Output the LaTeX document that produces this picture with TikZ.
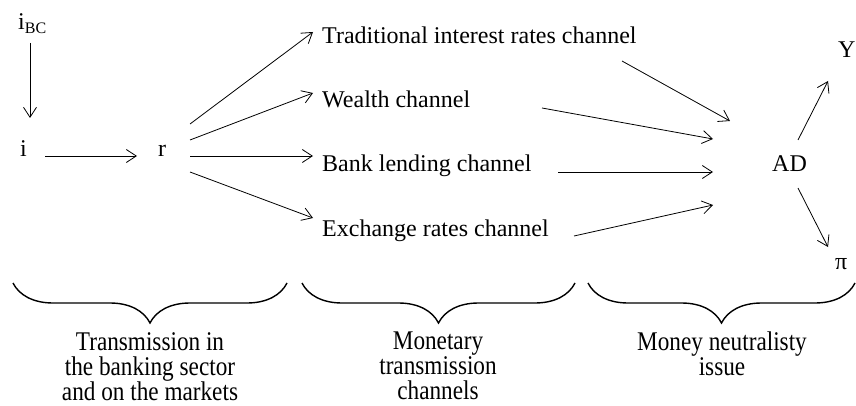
\documentclass[tikz,border=0pt]{standalone}
\usepackage{fontspec}
\setmainfont{Liberation Serif}
\newfontfamily\capfont[FakeStretch=0.86]{Liberation Serif}
\usetikzlibrary{arrows.meta,decorations.pathreplacing}
\begin{document}
\begin{tikzpicture}[x=1pt,y=-1pt,
  lbl/.style={inner sep=0pt, anchor=base west, font=\fontsize{24}{28}\selectfont},
  arr/.style={draw, line width=0.8pt, -{Straight Barb[length=10pt,width=13pt,line width=0.8pt]}},
  brc/.style={draw, line width=1.4pt, decorate, decoration={brace, amplitude=40pt, mirror}},
  captxt/.style={inner sep=0pt, anchor=north, align=center, font=\capfont\fontsize{27}{25}\selectfont}]
\useasboundingbox (0,0) rectangle (856,406);
% nodes
\node[lbl] (ibc) at (18,30) {i\raisebox{-4pt}{\fontsize{16}{16}\selectfont BC}};
\node[lbl] (i) at (20,157) {i};
\node[lbl] (r) at (158,157) {r};
\node[lbl] (trad) at (322,44) {Traditional interest rates channel};
\node[lbl] (wealth) at (322,108) {Wealth channel};
\node[lbl] (bank) at (322,172) {Bank lending channel};
\node[lbl] (exch) at (322,236) {Exchange rates channel};
\node[lbl] (ad) at (772,172) {AD};
\node[lbl] (Y) at (838,58) {Y};
\node[lbl] (pi) at (835,269) {π};
% connectors
\draw[arr] ([shift={(12,13)}]ibc.base west) -- ([shift={(10,-39)}]i.base west);
\draw[arr] ([shift={(25,-1)}]i.base west) -- ([shift={(-21,-1)}]r.base west);
\draw[arr] ([shift={(32,-33)}]r.base west) -- ([shift={(-9,-12)}]trad.base west);
\draw[arr] ([shift={(32,-17)}]r.base west) -- ([shift={(-9,-15)}]wealth.base west);
\draw[arr] ([shift={(32,-1)}]r.base west) -- ([shift={(-9,-16)}]bank.base west);
\draw[arr] ([shift={(32,15)}]r.base west) -- ([shift={(-9,-18)}]exch.base west);
\draw[arr] ([shift={(300,17)}]trad.base west) -- ([shift={(-42,-51)}]ad.base west);
\draw[arr] ([shift={(220,0)}]wealth.base west) -- ([shift={(-59,-33)}]ad.base west);
\draw[arr] ([shift={(236,0)}]bank.base west) -- ([shift={(-59,0)}]ad.base west);
\draw[arr] ([shift={(252,0)}]exch.base west) -- ([shift={(-59,33)}]ad.base west);
\draw[arr] ([shift={(26,-32)}]ad.base west) -- ([shift={(-10,23)}]Y.base west);
\draw[arr] ([shift={(26,16)}]ad.base west) -- ([shift={(-7,-22)}]pi.base west);
% braces
\draw[brc] (13,283) -- (287,283);
\draw[brc] (302,283) -- (575,283);
\draw[brc] (588,283) -- (855,283);
% captions
\node[captxt] (c1) at (150,332) {Transmission in\\the banking sector\\and on the markets};
\node[captxt] (c2) at (438,332) {Monetary\\transmission\\channels};
\node[captxt] (c3) at (722,332) {Money neutralisty\\issue};
\end{tikzpicture}
\end{document}
